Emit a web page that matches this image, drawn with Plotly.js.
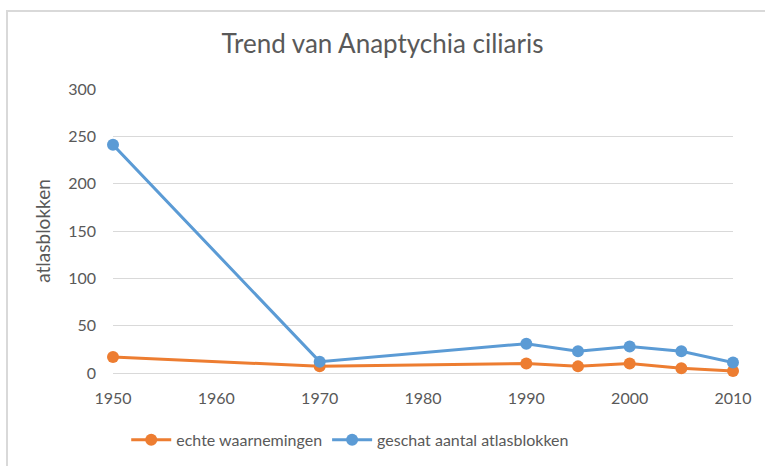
<!DOCTYPE html>
<html>
<head>
<meta charset="utf-8">
<script src="https://cdn.plot.ly/plotly-3.0.1.min.js"></script>
<style>
  html, body { margin: 0; padding: 0; background: #fff; }
  #wrap { position: relative; width: 765px; height: 466px; }
  #chart { position: absolute; left: 0; top: 0; width: 765px; height: 466px; }
  #frame { position: absolute; left: 6px; top: 10px; width: 770px; height: 470px;
           border-left: 2px solid #d9d9d9; border-top: 2px solid #d9d9d9; pointer-events: none; }
</style>
</head>
<body>
<div id="wrap"><div id="chart"></div><div id="frame"></div></div>
<script>
const years = [1950, 1970, 1990, 1995, 2000, 2005, 2010];
const echteWaarnemingen = [17, 7, 10, 7, 10, 5, 2];
const geschatAantal = [241, 12, 31, 23, 28, 23, 11];
const seriesNames = ['echte waarnemingen', 'geschat aantal atlasblokken'];

const font = 'Lato, "Open Sans", sans-serif';
const grey = '#595959';

const traces = [
  { x: years, y: echteWaarnemingen, name: seriesNames[0], type: 'scatter', mode: 'lines+markers',
    cliponaxis: false,
    line: { color: '#ED7D31', width: 3 }, marker: { color: '#ED7D31', size: 12 } },
  { x: years, y: geschatAantal, name: seriesNames[1], type: 'scatter', mode: 'lines+markers',
    cliponaxis: false,
    line: { color: '#5B9BD5', width: 3 }, marker: { color: '#5B9BD5', size: 12 } }
];

const layout = {
  width: 765, height: 466,
  margin: { l: 113, r: 32, t: 89, b: 93, autoexpand: false },
  paper_bgcolor: '#fff', plot_bgcolor: '#fff',
  font: { family: font, color: grey, size: 16 },
  title: { text: 'Trend van Anaptychia ciliaris', font: { family: font, size: 26, color: grey },
           x: 0.5, xanchor: 'center', xref: 'container', y: 0.905, yanchor: 'middle' },
  xaxis: { range: [1950, 2010], tickvals: [1950, 1960, 1970, 1980, 1990, 2000, 2010],
           showgrid: false, zeroline: false, showline: false, ticks: '',
           ticklabelstandoff: 14,
           tickfont: { size: 16, color: grey }, fixedrange: true },
  yaxis: { range: [0, 300], dtick: 50, showgrid: true, gridcolor: '#d9d9d9', gridwidth: 1,
           zeroline: true, zerolinecolor: '#d9d9d9', zerolinewidth: 1, showline: false, ticks: '',
           ticklabelstandoff: 16,
           tickfont: { size: 16, color: grey },
           title: { text: 'atlasblokken', font: { size: 19, color: grey }, standoff: 12 } },
  showlegend: true,
  legend: { orientation: 'h', xref: 'container', yref: 'container', x: 0.165, xanchor: 'left',
            y: 0.056, yanchor: 'middle',
            font: { size: 16, color: grey }, itemwidth: 40, tracegroupgap: 0 },
};

Plotly.newPlot('chart', traces, layout, { displayModeBar: false, staticPlot: true });
</script>
</body>
</html>
